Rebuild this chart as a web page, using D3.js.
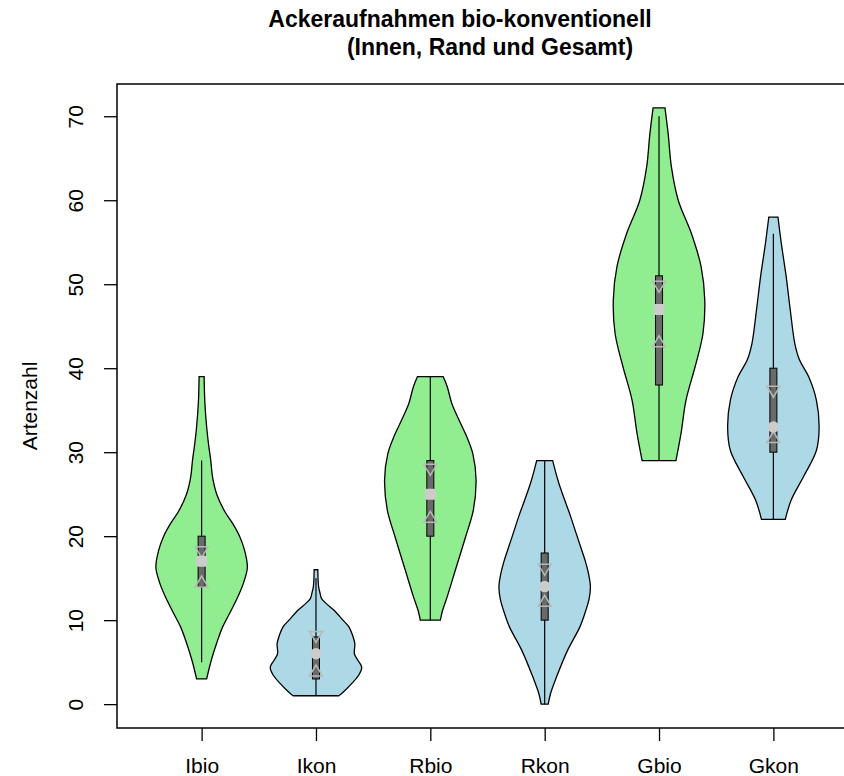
<!DOCTYPE html>
<html>
<head>
<meta charset="utf-8">
<script src="https://cdn.jsdelivr.net/npm/d3@7"></script>
<style>
  html, body { margin: 0; padding: 0; background: #ffffff; }
  svg { display: block; font-family: "Liberation Sans", Arial, Helvetica, sans-serif; }
</style>
</head>
<body>
<svg id="chart" width="844" height="776"></svg>
<script>
// ---- data -------------------------------------------------------------
const categories = ["Ibio", "Ikon", "Rbio", "Rkon", "Gbio", "Gkon"];
const farming    = ["bio", "kon", "bio", "kon", "bio", "kon"];
const yTicks     = [0, 10, 20, 30, 40, 50, 60, 70];

// density outlines: [Artenzahl, relative half width (1 = widest point)]
const densIbio = [[3,0.11],[5.2,0.21],[7.6,0.35],[9.2,0.46],[11,0.63],[13,0.81],[14.5,0.92],[16.3,1.0],
                  [18.3,0.94],[20,0.83],[21.5,0.68],[23,0.50],[25,0.33],[27,0.24],[29,0.20],[31,0.15],
                  [33,0.11],[36,0.07],[39,0.055]];
const densIkon = [[1,0.50],[1.5,0.61],[2.5,0.79],[3.5,0.94],[4.4,1.0],[5.2,0.92],[6,0.84],[7.2,0.85],
                  [8.2,0.80],[9.2,0.72],[10,0.59],[11.2,0.39],[12,0.22],[12.6,0.12],[13.2,0.09],
                  [14,0.057],[16,0.04]];
const densRbio = [[10,0.22],[11,0.26],[12.8,0.37],[16,0.55],[19.9,0.77],[23.1,0.94],[26.7,1.0],
                  [29.8,0.93],[31.8,0.80],[33.8,0.63],[35.8,0.47],[37.8,0.37],[39,0.28]];
const densRkon = [[0,0.077],[1.3,0.13],[3.25,0.26],[6.4,0.50],[9.2,0.77],[11,0.89],[12.5,0.97],[14,1.0],
                  [15.5,0.96],[17,0.89],[18.5,0.80],[20.3,0.69],[22.3,0.57],[26.3,0.31],[29,0.175]];
const densGbio = [[29,0.37],[32.2,0.48],[36.2,0.59],[40.2,0.79],[44.1,0.96],[48.1,1.0],[52.1,0.92],
                  [56,0.71],[60,0.42],[64,0.27],[67.9,0.20],[71,0.13]];
const densGkon = [[22,0.26],[24.3,0.39],[27.1,0.66],[30.2,0.94],[33,1.0],[36.2,0.94],[39,0.77],
                  [41,0.57],[42.9,0.47],[46.9,0.37],[50.9,0.28],[54.8,0.175],[58,0.10]];
const densities = [densIbio, densIkon, densRbio, densRkon, densGbio, densGkon];

// box summaries
const whiskerLow  = [5, 1, 10, 0, 29, 22];
const whiskerHigh = [29, 15, 39, 29, 70, 56];
const q1          = [14, 3, 20, 10, 38, 30];
const q3          = [20, 8, 29, 18, 51, 40];
const medians     = [17, 6, 25, 14, 47, 33];
const notchHigh   = [18.1, 8, 27.9, 16, 49.7, 37.2];
const notchLow    = [14.6, 4, 22.3, 12.3, 43.2, 31.8];

// ---- layout -----------------------------------------------------------
const fills = { bio: "#90EE90", kon: "#ADD8E6" };
const violinWidth = 0.4;   // half width of the widest point, in category units

const svg = d3.select("#chart");
const x = d3.scaleLinear().domain([0.26, 6.74]).range([117, 858]);
const y = d3.scaleLinear().domain([-2.84, 73.84]).range([728, 84]);

// ---- violins ----------------------------------------------------------
const area = d3.area()
  .curve(d3.curveCatmullRom.alpha(0.5))
  .y(d => y(d.v))
  .x0(d => x(d.c - violinWidth * d.w))
  .x1(d => x(d.c + violinWidth * d.w));

const groups = svg.append("g").selectAll("g.violin")
  .data(categories)
  .join("g")
  .attr("class", "violin");

groups.append("path")
  .attr("d", (c, i) => area(densities[i].map(([v, w]) => ({ v, w, c: i + 1 }))))
  .attr("fill", (c, i) => fills[farming[i]])
  .attr("stroke", "#000")
  .attr("stroke-width", 1.3);

// whiskers
groups.append("line")
  .attr("x1", (c, i) => x(i + 1)).attr("x2", (c, i) => x(i + 1))
  .attr("y1", (c, i) => y(whiskerLow[i])).attr("y2", (c, i) => y(whiskerHigh[i]))
  .attr("stroke", "#000").attr("stroke-width", 1.2);

// boxes
const boxW = 7;
groups.append("rect")
  .attr("x", (c, i) => x(i + 1) - boxW / 2)
  .attr("width", boxW)
  .attr("y", (c, i) => y(q3[i]))
  .attr("height", (c, i) => y(q1[i]) - y(q3[i]))
  .attr("fill", "#6a6a6a")
  .attr("stroke", "#000")
  .attr("stroke-width", 1);

// notch markers
const triDown = "M-6.5,-5.5L6.5,-5.5L0,5.5Z";
const triUp   = "M-6.5,5.5L6.5,5.5L0,-5.5Z";
groups.append("path")
  .attr("d", triDown)
  .attr("transform", (c, i) => `translate(${x(i + 1)},${y(notchHigh[i])})`)
  .attr("fill", "none").attr("stroke", "#b8b8b8").attr("stroke-width", 1.5);
groups.append("path")
  .attr("d", triUp)
  .attr("transform", (c, i) => `translate(${x(i + 1)},${y(notchLow[i])})`)
  .attr("fill", "none").attr("stroke", "#b8b8b8").attr("stroke-width", 1.5);

// medians: squares for bio, circles for kon
groups.filter((c, i) => farming[i] === "bio").append("rect")
  .attr("x", (c) => x(categories.indexOf(c) + 1) - 5.5)
  .attr("y", (c) => y(medians[categories.indexOf(c)]) - 5.5)
  .attr("width", 11).attr("height", 11).attr("rx", 2)
  .attr("fill", "#cccccc");
groups.filter((c, i) => farming[i] === "kon").append("circle")
  .attr("cx", (c) => x(categories.indexOf(c) + 1))
  .attr("cy", (c) => y(medians[categories.indexOf(c)]))
  .attr("r", 5.8)
  .attr("fill", "#cccccc");

// ---- frame & axes -----------------------------------------------------
svg.append("rect")
  .attr("x", x(0.26)).attr("y", y(73.84))
  .attr("width", x(6.74) - x(0.26)).attr("height", y(-2.84) - y(73.84))
  .attr("fill", "none").attr("stroke", "#000").attr("stroke-width", 1.5);

const yAxis = svg.append("g")
  .attr("transform", `translate(${x(0.26)},0)`)
  .call(d3.axisLeft(y).tickValues(yTicks).tickSize(13).tickSizeOuter(0))
  .attr("font-size", 21).attr("font-family", null);
yAxis.select(".domain").remove();
yAxis.selectAll(".tick line").attr("stroke", "#000").attr("stroke-width", 1.3);
yAxis.selectAll(".tick text")
  .attr("x", null).attr("dy", null)
  .attr("transform", "translate(-34,0) rotate(-90)")
  .attr("text-anchor", "middle")
  .attr("fill", "#000");

const xAxis = svg.append("g")
  .attr("transform", `translate(0,${y(-2.84)})`)
  .call(d3.axisBottom(x).tickValues([1, 2, 3, 4, 5, 6])
        .tickFormat(d => categories[d - 1]).tickSize(13).tickSizeOuter(0))
  .attr("font-size", 21).attr("font-family", null);
xAxis.select(".domain").remove();
xAxis.selectAll(".tick line").attr("stroke", "#000").attr("stroke-width", 1.3);
xAxis.selectAll(".tick text").attr("y", 45).attr("dy", null).attr("fill", "#000");

// axis title
svg.append("text")
  .attr("transform", `translate(37,${(y(-2.84) + y(73.84)) / 2}) rotate(-90)`)
  .attr("text-anchor", "middle")
  .attr("font-size", 21)
  .text("Artenzahl");

// chart title
const title = svg.append("g").attr("font-weight", "bold").attr("font-size", 23).attr("text-anchor", "middle");
title.append("text").attr("x", 460).attr("y", 27).text("Ackeraufnahmen bio-konventionell");
title.append("text").attr("x", 490).attr("y", 55).text("(Innen, Rand und Gesamt)");
</script>
</body>
</html>
